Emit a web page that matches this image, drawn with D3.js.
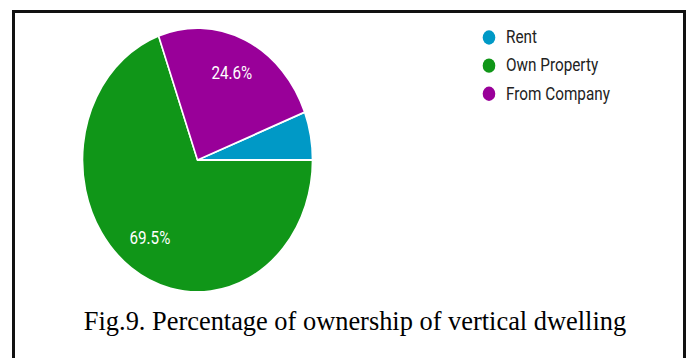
<!DOCTYPE html>
<html>
<head>
<meta charset="utf-8">
<script src="https://cdn.jsdelivr.net/npm/d3@7"></script>
<style>
  html, body { margin: 0; padding: 0; background: #fff; }
  svg { display: block; }
</style>
</head>
<body>
<svg id="chart" width="693" height="358"></svg>
<script>
// Housing ownership shares (percent)
const categories = ["Rent", "Own Property", "From Company"];
const shares = [5.9, 69.5, 24.6];
const colors = ["#0099c6", "#109618", "#990099"];
// Slice order going counter-clockwise from 3 o'clock
const sliceOrder = ["Rent", "From Company", "Own Property"];
// Slices that carry a percentage label
const labelled = ["Own Property", "From Company"];
const caption = "Fig.9. Percentage of ownership of vertical dwelling";

const svg = d3.select("#chart");

// Frame around the figure (open at the bottom edge of the page)
svg.append("path")
  .attr("d", "M13.5,400 V11.5 H684.5 V400")
  .attr("fill", "none")
  .attr("stroke", "#111")
  .attr("stroke-width", 3);

const data = categories.map((c, i) => ({ name: c, value: shares[i], color: colors[i] }));

const R = 115;
const stretch = 1.148;

const pie = d3.pie()
  .value(d => d.value)
  .sort((a, b) => sliceOrder.indexOf(a.name) - sliceOrder.indexOf(b.name))
  .startAngle(Math.PI / 2)
  .endAngle(Math.PI / 2 - 2 * Math.PI);

const arc = d3.arc().innerRadius(0).outerRadius(R);
const labelArc = d3.arc().innerRadius(R * 0.72).outerRadius(R * 0.72);

const pieG = svg.append("g")
  .attr("transform", `translate(197.5,160) scale(1,${stretch})`);

const arcs = pie(data);

pieG.selectAll("path.slice")
  .data(arcs)
  .join("path")
  .attr("class", "slice")
  .attr("d", arc)
  .attr("fill", d => d.data.color)
  .attr("stroke", "#fff")
  .attr("stroke-width", 1.6)
  .attr("stroke-linejoin", "round");

pieG.selectAll("text.pct")
  .data(arcs.filter(d => labelled.includes(d.data.name)))
  .join("text")
  .attr("class", "pct")
  .attr("transform", d => `translate(${labelArc.centroid(d)})`)
  .attr("text-anchor", "middle")
  .attr("dominant-baseline", "central")
  .attr("font-family", "Roboto, 'Noto Sans', sans-serif")
  .attr("font-size", 15.2)
  .attr("fill", "#fff")
  .text(d => d.data.value.toFixed(1) + "%");

// Legend
const legend = svg.append("g")
  .attr("transform", `translate(489,37.5) scale(1,${stretch})`);

const items = legend.selectAll("g.item")
  .data(data)
  .join("g")
  .attr("class", "item")
  .attr("transform", (d, i) => `translate(0,${i * 24.5})`);

items.append("circle")
  .attr("r", 6.3)
  .attr("fill", d => d.color);

items.append("text")
  .attr("x", 17)
  .attr("dominant-baseline", "central")
  .attr("font-family", "Roboto, 'Noto Sans', sans-serif")
  .attr("font-size", 15.3)
  .attr("fill", "#222")
  .text(d => d.name);

// Figure caption
svg.append("text")
  .attr("x", 355)
  .attr("y", 330)
  .attr("text-anchor", "middle")
  .attr("font-family", "'Liberation Serif', 'Times New Roman', serif")
  .attr("font-size", 26.4)
  .attr("fill", "#000")
  .text(caption);
</script>
</body>
</html>
